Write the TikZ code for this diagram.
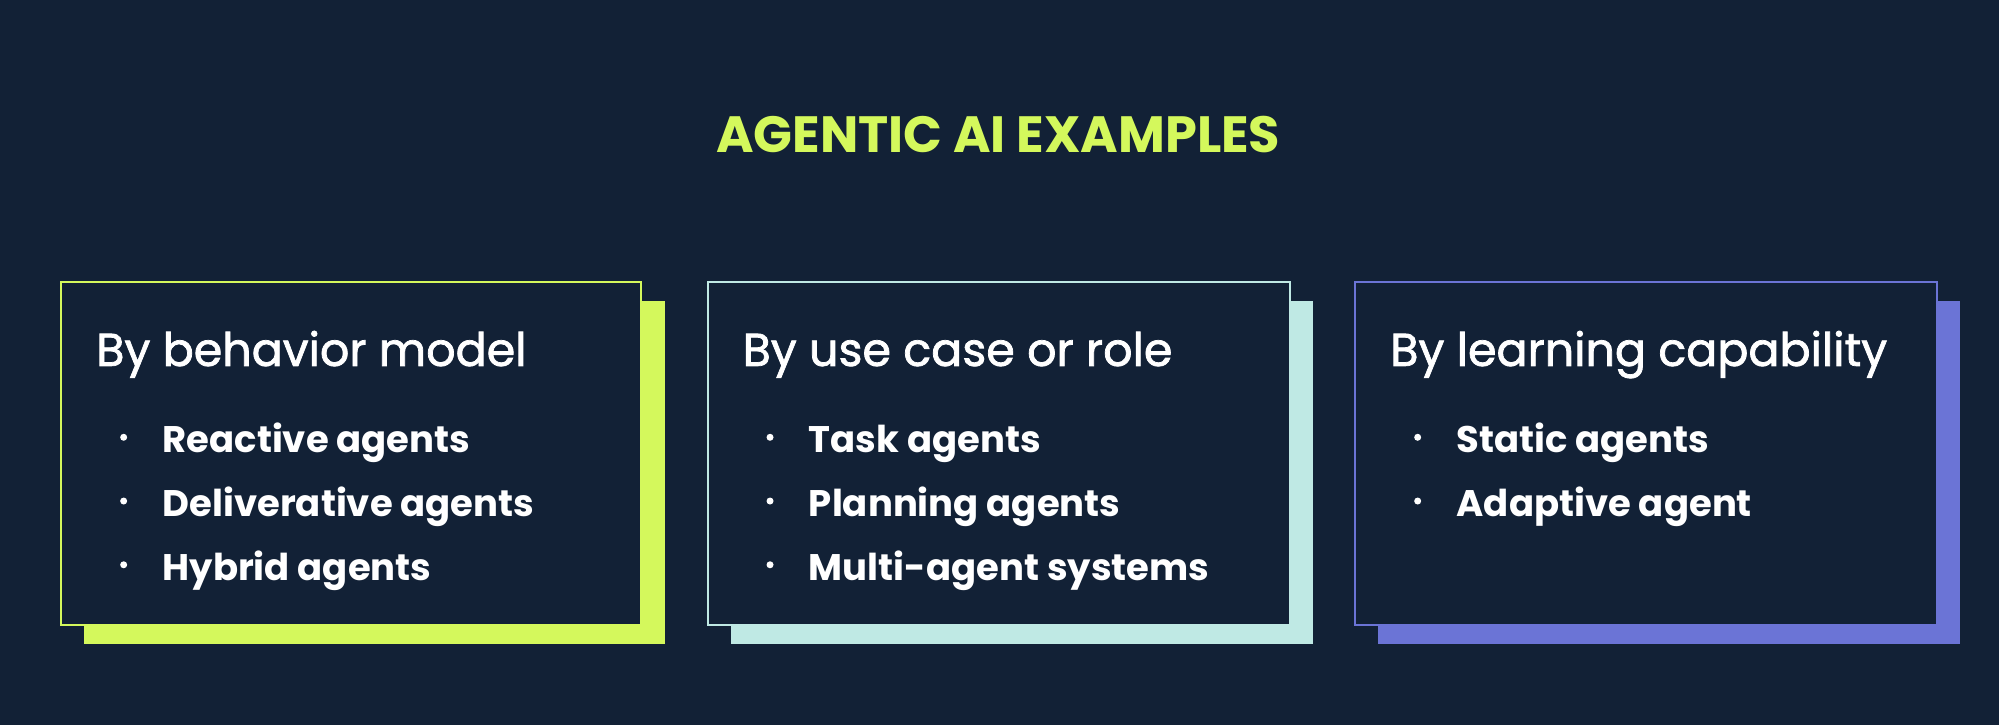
\documentclass[tikz,border=0pt]{standalone}
\usepackage{fontspec}
\setmainfont{Poppins}
\newfontfamily\headfont[FakeBold=1.6]{Poppins}
\definecolor{bg}{HTML}{122136}
\definecolor{lime}{HTML}{D4F85C}
\definecolor{aqua}{HTML}{BFE9E4}
\definecolor{violet}{HTML}{6B74D6}
\tikzset{
  card/.style={draw=#1, line width=1pt, fill=bg},
  shadowbox/.style={fill=#1},
  head/.style={anchor=base west, text=white, font=\headfont\fontsize{23}{27}\selectfont},
  item/.style={anchor=base west, text=white, font=\bfseries\fontsize{18.5}{22}\selectfont},
  dot/.style={circle, fill=white, inner sep=0pt, minimum size=3.5pt}
}
\begin{document}
\begin{tikzpicture}[x=0.6375pt,y=-0.6375pt]
\fill[bg] (0,0) rectangle (1568,569);
\useasboundingbox (0,0) rectangle (1568,569);
\node[text=lime, font=\bfseries\fontsize{25.5}{30}\selectfont, anchor=base] (title) at (783,120) {AGENTIC AI EXAMPLES};
% card 1
\fill[shadowbox=lime] (66,236) rectangle (522,505);
\draw[card=lime] (48,221) rectangle (503,490);
\node[head] (h1) at (70,287) {By behavior model};
\foreach \t/\y/\n in {Reactive agents/355/a, Deliverative agents/405/b, Hybrid agents/455/c}{
  \node[dot] (d1\n) at (97,\y-12) {};
  \node[item] (i1\n) at (122,\y) {\t};
}
% card 2
\fill[shadowbox=aqua] (573,236) rectangle (1030,505);
\draw[card=aqua] (555,221) rectangle (1012,490);
\node[head] (h2) at (577,287) {By use case or role};
\foreach \t/\y/\n in {Task agents/355/a, Planning agents/405/b, Multi-agent systems/455/c}{
  \node[dot] (d2\n) at (604,\y-12) {};
  \node[item] (i2\n) at (629,\y) {\t};
}
% card 3
\fill[shadowbox=violet] (1081,236) rectangle (1537,505);
\draw[card=violet] (1063,221) rectangle (1519,490);
\node[head] (h3) at (1085,287) {By learning capability};
\foreach \t/\y/\n in {Static agents/355/a, Adaptive agent/405/b}{
  \node[dot] (d3\n) at (1112,\y-12) {};
  \node[item] (i3\n) at (1137,\y) {\t};
}
\end{tikzpicture}
\end{document}
